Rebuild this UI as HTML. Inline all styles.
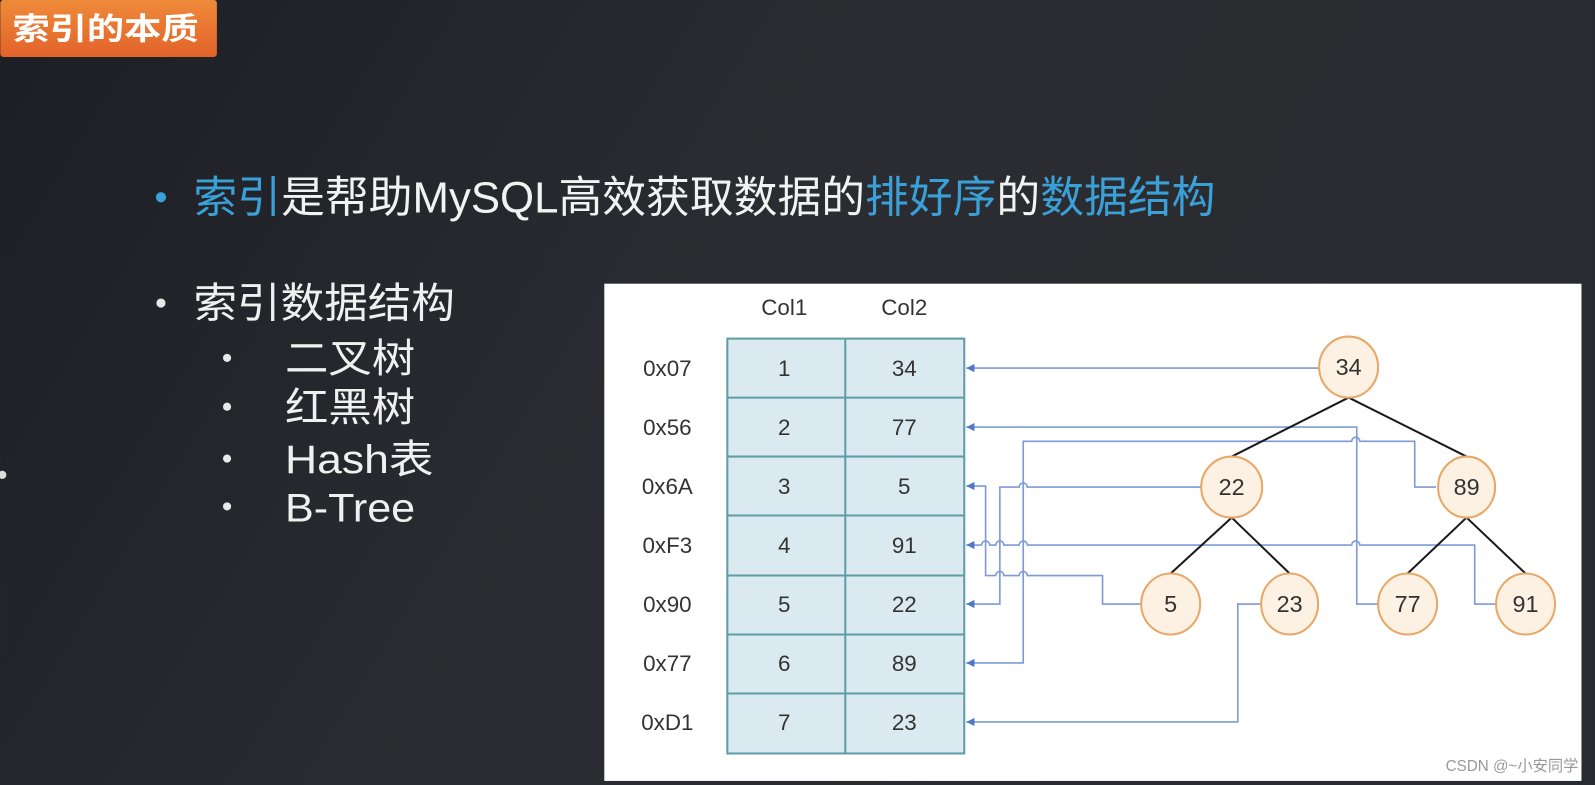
<!DOCTYPE html>
<html><head><meta charset="utf-8"><style>
html,body{margin:0;padding:0;width:1595px;height:785px;overflow:hidden;background:#25272c}
svg{display:block}
text{font-family:"Liberation Sans","Noto Sans CJK SC",sans-serif}
</style></head><body>
<svg width="1595" height="785" viewBox="0 0 1568 772" xmlns="http://www.w3.org/2000/svg">
<defs>
<linearGradient id="bg" x1="0" y1="0" x2="1" y2="0.3">
<stop offset="0" stop-color="#1c1e24"/><stop offset="0.5" stop-color="#2b2c31"/><stop offset="1" stop-color="#2a2b30"/>
</linearGradient>
<linearGradient id="og" x1="0" y1="0" x2="0" y2="1">
<stop offset="0" stop-color="#ef8a3a"/><stop offset="1" stop-color="#e2632a"/>
</linearGradient>
<marker id="ah" markerWidth="9" markerHeight="9" refX="8" refY="4" orient="auto" markerUnits="userSpaceOnUse">
<path d="M0,0 L8,4 L0,8 Z" fill="#4f77c8"/></marker>
</defs>
<rect width="1568" height="772" fill="url(#bg)"/>
<rect x="0" y="0" width="213" height="56" rx="3" fill="url(#og)"/>
<text x="12" y="39" font-size="30" font-weight="bold" fill="#fff" textLength="183" lengthAdjust="spacingAndGlyphs">索引的本质</text>
<circle cx="2" cy="467" r="4" fill="#ddd"/>

<circle cx="158" cy="194" r="5" fill="#3aa0d8"/>
<text x="190" y="209" font-size="43" fill="#f2f2f2" textLength="1005" lengthAdjust="spacingAndGlyphs"><tspan fill="#3aa0d8">索引</tspan>是帮助MySQL高效获取数据的<tspan fill="#3aa0d8">排好序</tspan>的<tspan fill="#3aa0d8">数据结构</tspan></text>

<circle cx="158" cy="298" r="4.5" fill="#e8e8e8"/>
<text x="190" y="312" font-size="41" fill="#f0f0f0" textLength="257" lengthAdjust="spacingAndGlyphs">索引数据结构</text>
<g font-size="39" fill="#f0f0f0">
<circle cx="223" cy="352" r="4" fill="#e8e8e8"/><text x="280" y="366" textLength="128" lengthAdjust="spacingAndGlyphs">二叉树</text>
<circle cx="223" cy="400" r="4" fill="#e8e8e8"/><text x="280" y="414" textLength="128" lengthAdjust="spacingAndGlyphs">红黑树</text>
<circle cx="223" cy="451" r="4" fill="#e8e8e8"/><text x="280" y="465" textLength="146" lengthAdjust="spacingAndGlyphs">Hash表</text>
<circle cx="223" cy="498" r="4" fill="#e8e8e8"/><text x="280" y="513" textLength="128" lengthAdjust="spacingAndGlyphs">B-Tree</text>
</g>

<rect x="594" y="279" width="961" height="489" fill="#ffffff"/>
<g font-size="22" fill="#333" text-anchor="middle">
<text x="771" y="310">Col1</text><text x="889" y="310">Col2</text>
</g>
<rect x="715" y="333" width="233" height="408" fill="#dbeaf0" stroke="#5e9ca6" stroke-width="2"/>
<g stroke="#5e9ca6" stroke-width="2">
<line x1="831" y1="333" x2="831" y2="741"/>
<line x1="715" y1="391" x2="948" y2="391"/><line x1="715" y1="449" x2="948" y2="449"/>
<line x1="715" y1="507" x2="948" y2="507"/><line x1="715" y1="566" x2="948" y2="566"/>
<line x1="715" y1="624" x2="948" y2="624"/><line x1="715" y1="682" x2="948" y2="682"/>
</g>
<g font-size="22" fill="#333" text-anchor="middle">
<text x="656" y="370">0x07</text><text x="771" y="370">1</text><text x="889" y="370">34</text>
<text x="656" y="428">0x56</text><text x="771" y="428">2</text><text x="889" y="428">77</text>
<text x="656" y="486">0x6A</text><text x="771" y="486">3</text><text x="889" y="486">5</text>
<text x="656" y="544">0xF3</text><text x="771" y="544">4</text><text x="889" y="544">91</text>
<text x="656" y="602">0x90</text><text x="771" y="602">5</text><text x="889" y="602">22</text>
<text x="656" y="660">0x77</text><text x="771" y="660">6</text><text x="889" y="660">89</text>
<text x="656" y="718">0xD1</text><text x="771" y="718">7</text><text x="889" y="718">23</text>
</g>

<g fill="none" stroke="#7d9ad6" stroke-width="1.6">
<path d="M1297,362 H950" marker-end="url(#ah)"/>
<path d="M1355,594 H1334 V420 H950" marker-end="url(#ah)"/>
<path d="M1412,479 H1391 V434 H1337 a4,4 0 0 0 -8,0 H1006 V652 H950" marker-end="url(#ah)"/>
<path d="M1182,479 H1010 a4,4 0 0 0 -8,0 H983 V594 H950" marker-end="url(#ah)"/>
<path d="M1122,594 H1084 V566 H1010 a4,4 0 0 0 -8,0 H987 a4,4 0 0 0 -8,0 H969 V478 H950" marker-end="url(#ah)"/>
<path d="M1239,594 H1217 V710 H950" marker-end="url(#ah)"/>
<path d="M1471,594 H1450 V536 H1337 a4,4 0 0 0 -8,0 H1010 a4,4 0 0 0 -8,0 H987 a4,4 0 0 0 -8,0 H973 a4,4 0 0 0 -8,0 H950" marker-end="url(#ah)"/>
</g>

<g stroke="#1a1a1a" stroke-width="2">
<line x1="1326" y1="391" x2="1211" y2="449"/><line x1="1326" y1="391" x2="1442" y2="449"/>
<line x1="1211" y1="509" x2="1151" y2="564"/><line x1="1211" y1="509" x2="1268" y2="564"/>
<line x1="1442" y1="509" x2="1384" y2="564"/><line x1="1442" y1="509" x2="1500" y2="564"/>
</g>
<g fill="#fdf1e4" stroke="#e8a766" stroke-width="2">
<ellipse cx="1326" cy="361" rx="29" ry="30"/>
<ellipse cx="1211" cy="479" rx="30" ry="30"/><ellipse cx="1442" cy="479" rx="28" ry="30"/>
<ellipse cx="1151" cy="594" rx="29" ry="30"/><ellipse cx="1268" cy="594" rx="28" ry="30"/>
<ellipse cx="1384" cy="594" rx="29" ry="30"/><ellipse cx="1500" cy="594" rx="29" ry="30"/>
</g>
<g font-size="23" fill="#333" text-anchor="middle">
<text x="1326" y="369">34</text><text x="1211" y="487">22</text><text x="1442" y="487">89</text>
<text x="1151" y="602">5</text><text x="1268" y="602">23</text><text x="1384" y="602">77</text><text x="1500" y="602">91</text>
</g>
<text x="1552" y="758" font-size="15" fill="#999" text-anchor="end">CSDN @~小安同学</text>
</svg>
</body></html>
